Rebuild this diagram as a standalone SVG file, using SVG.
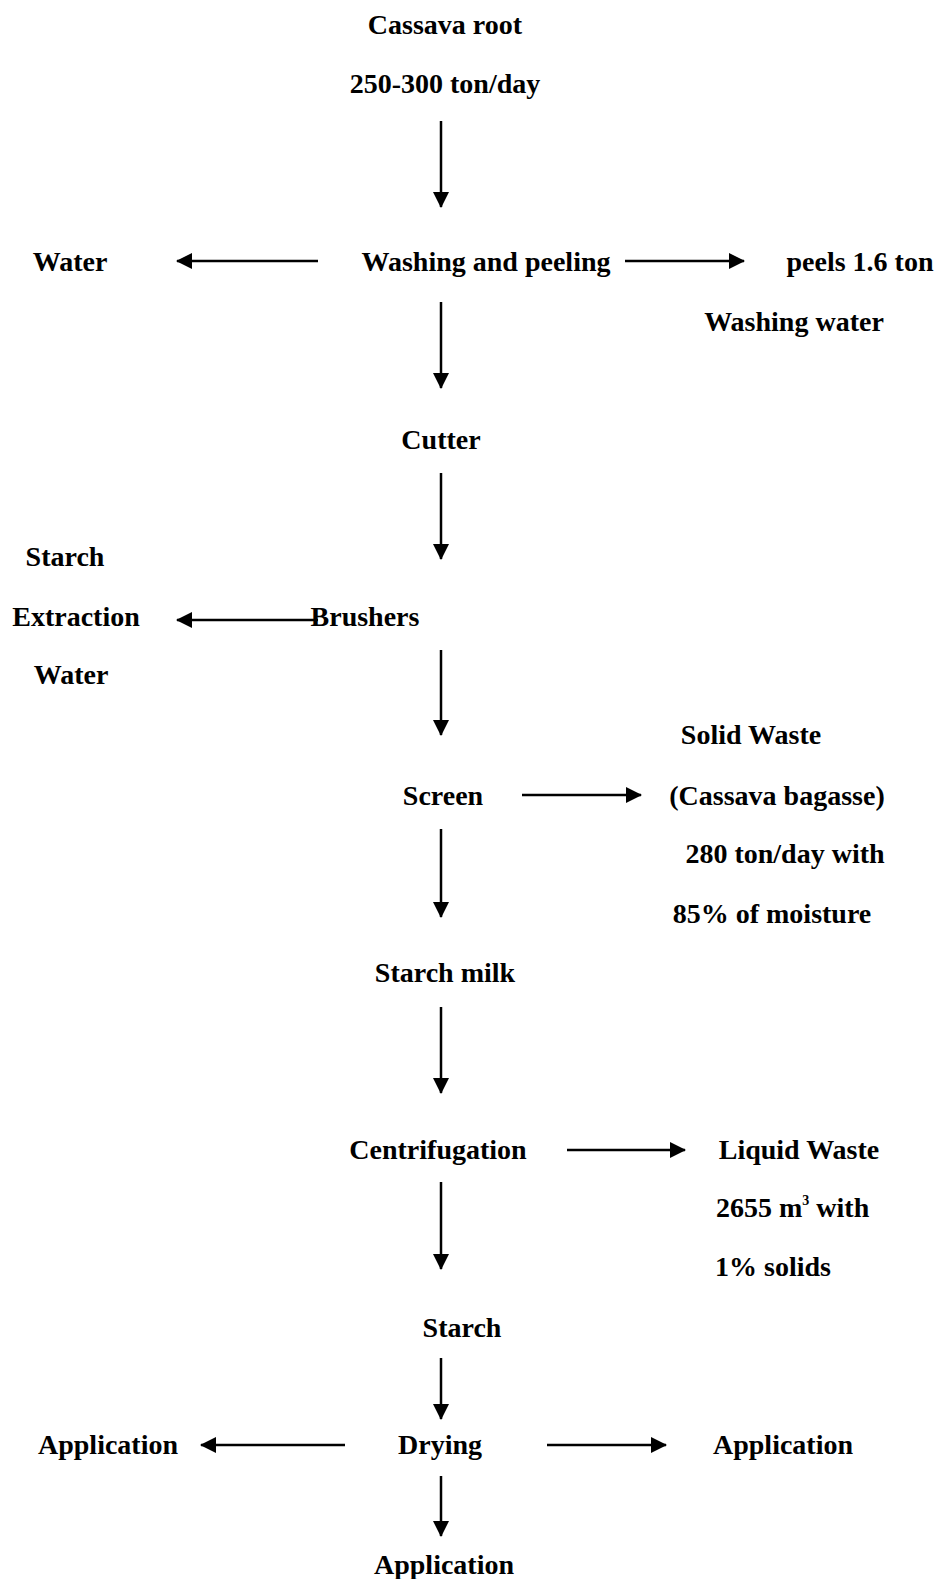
<svg xmlns="http://www.w3.org/2000/svg" width="939" height="1579" viewBox="0 0 939 1579">
<style>
text{font-family:"Liberation Serif","Times New Roman",serif;font-weight:bold;font-size:28px;fill:#000}
.c{text-anchor:middle}
.l{stroke:#000;stroke-width:2.5;fill:none}
</style>
<defs>
<marker id="ah" markerUnits="userSpaceOnUse" markerWidth="16" markerHeight="16" viewBox="0 0 16 16" refX="15" refY="8" orient="auto">
<path d="M0,0 L16,8 L0,16 Z" fill="#000"/>
</marker>
</defs>
<rect width="939" height="1579" fill="#fff"/>
<g id="connectors">
<line class="l" x1="441" y1="121" x2="441" y2="207" marker-end="url(#ah)"/>
<line class="l" x1="318" y1="261" x2="177" y2="261" marker-end="url(#ah)"/>
<line class="l" x1="625" y1="261" x2="744" y2="261" marker-end="url(#ah)"/>
<line class="l" x1="441" y1="302" x2="441" y2="388" marker-end="url(#ah)"/>
<line class="l" x1="441" y1="473" x2="441" y2="559" marker-end="url(#ah)"/>
<line class="l" x1="318" y1="620" x2="177" y2="620" marker-end="url(#ah)"/>
<line class="l" x1="441" y1="650" x2="441" y2="735" marker-end="url(#ah)"/>
<line class="l" x1="522" y1="795" x2="641" y2="795" marker-end="url(#ah)"/>
<line class="l" x1="441" y1="829" x2="441" y2="917" marker-end="url(#ah)"/>
<line class="l" x1="441" y1="1007" x2="441" y2="1093" marker-end="url(#ah)"/>
<line class="l" x1="567" y1="1150" x2="685" y2="1150" marker-end="url(#ah)"/>
<line class="l" x1="441" y1="1182" x2="441" y2="1269" marker-end="url(#ah)"/>
<line class="l" x1="441" y1="1358" x2="441" y2="1419" marker-end="url(#ah)"/>
<line class="l" x1="345" y1="1445" x2="201" y2="1445" marker-end="url(#ah)"/>
<line class="l" x1="547" y1="1445" x2="666" y2="1445" marker-end="url(#ah)"/>
<line class="l" x1="441" y1="1476" x2="441" y2="1536" marker-end="url(#ah)"/>
</g>
<g id="cassava"><text class="c" x="445" y="34">Cassava root</text><text class="c" x="445" y="93">250-300 ton/day</text></g>
<g id="water1"><text class="c" x="70" y="271">Water</text></g>
<g id="washing"><text class="c" x="486" y="271">Washing and peeling</text></g>
<g id="peels"><text class="c" x="860" y="271">peels 1.6 ton</text><text class="c" x="794" y="331">Washing water</text></g>
<g id="cutter"><text class="c" x="441" y="449">Cutter</text></g>
<g id="sew"><text class="c" x="65" y="566">Starch</text><text class="c" x="76" y="626">Extraction</text><text class="c" x="71" y="684">Water</text></g>
<g id="brushers"><text class="c" x="365" y="626">Brushers</text></g>
<g id="solidwaste"><text class="c" x="751" y="744">Solid Waste</text><text class="c" x="777" y="805">(Cassava bagasse)</text><text class="c" x="785" y="863">280 ton/day with</text><text class="c" x="772" y="923">85% of moisture</text></g>
<g id="screen"><text class="c" x="443" y="805">Screen</text></g>
<g id="starchmilk"><text class="c" x="445" y="982">Starch milk</text></g>
<g id="centrifugation"><text class="c" x="438" y="1159">Centrifugation</text></g>
<g id="liquidwaste"><text class="c" x="799" y="1159">Liquid Waste</text><text x="716" y="1217">2655 m<tspan font-size="14" dy="-12">3</tspan><tspan dy="12"> with</tspan></text><text x="715" y="1276">1% solids</text></g>
<g id="starch"><text class="c" x="462" y="1337">Starch</text></g>
<g id="drying"><text class="c" x="440" y="1454">Drying</text></g>
<g id="app1"><text class="c" x="108" y="1454">Application</text></g>
<g id="app2"><text class="c" x="783" y="1454">Application</text></g>
<g id="app3"><text class="c" x="444" y="1574">Application</text></g>
</svg>
